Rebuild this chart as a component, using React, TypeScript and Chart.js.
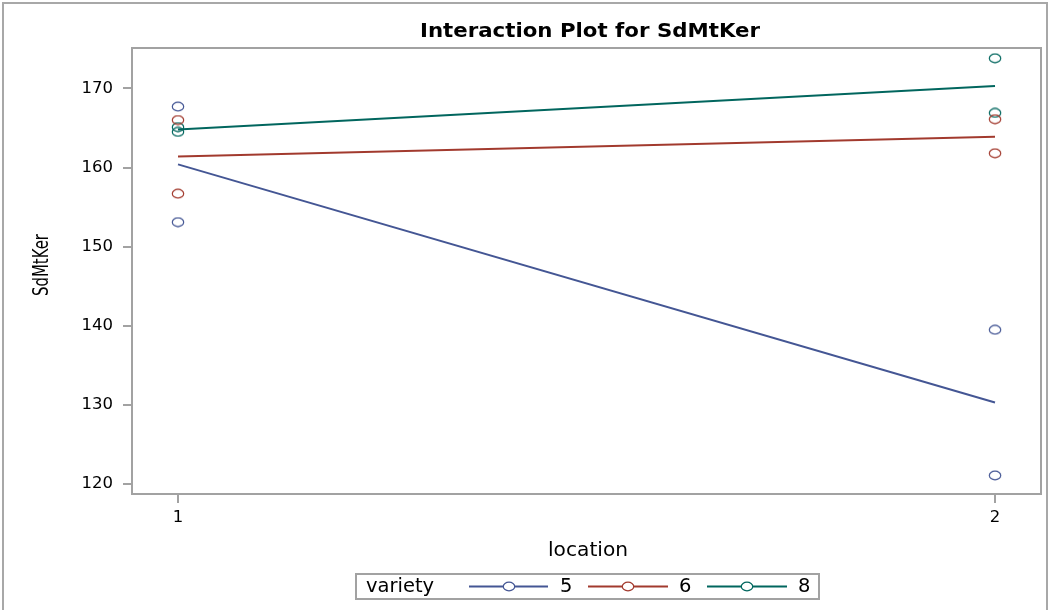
import React, { useEffect, useRef } from 'react';
import { Chart, registerables } from 'chart.js';

Chart.register(...registerables);

// ---- data ----
const locations = [1, 2];
const varieties = ['5', '6', '8'];
const colors = ['#445694', '#A23A2E', '#01665E'];

const obsV5Loc1 = [167.7, 153.1];
const obsV5Loc2 = [139.5, 121.1];
const obsV6Loc1 = [166.0, 156.7];
const obsV6Loc2 = [166.1, 161.8];
const obsV8Loc1 = [165.1, 164.5];
const obsV8Loc2 = [173.8, 166.9];

const meanV5 = [160.4, 130.3];
const meanV6 = [161.4, 163.9];
const meanV8 = [164.8, 170.3];

const yTicks = [120, 130, 140, 150, 160, 170];
const xTicks = [1, 2];

const titleText = 'Interaction Plot for SdMtKer';
const xTitle = 'location';
const yTitle = 'SdMtKer';
const legendTitle = 'variety';

const FONT = '"DejaVu Sans", Verdana, sans-serif';
const AXIS_GREY = '#a2a2a2';
const RX = 5.7;
const RY = 4.3;

function makeMarker(color: string): HTMLCanvasElement {
  const c = document.createElement('canvas');
  c.width = 14;
  c.height = 11;
  const g = c.getContext('2d')!;
  g.strokeStyle = color;
  g.lineWidth = 1.2;
  g.beginPath();
  g.ellipse(7, 5.5, RX, RY, 0, 0, Math.PI * 2);
  g.stroke();
  return c;
}

function fitText(
  ctx: CanvasRenderingContext2D,
  text: string,
  x: number,
  y: number,
  width: number,
  font: string,
  rotate = false
) {
  ctx.save();
  ctx.font = font;
  ctx.fillStyle = '#000';
  ctx.textAlign = 'center';
  ctx.textBaseline = 'alphabetic';
  const w = ctx.measureText(text).width;
  ctx.translate(x, y);
  if (rotate) ctx.rotate(-Math.PI / 2);
  ctx.scale(width / w, 1);
  ctx.fillText(text, 0, 0);
  ctx.restore();
}

const decor = {
  id: 'decor',
  beforeDatasetsDraw(chart: any) {
    const { ctx, chartArea } = chart;
    ctx.save();
    ctx.strokeStyle = AXIS_GREY;
    ctx.lineWidth = 2;
    ctx.strokeRect(chartArea.left, chartArea.top, chartArea.right - chartArea.left, chartArea.bottom - chartArea.top);
    ctx.restore();
  },
  afterDraw(chart: any) {
    const { ctx } = chart;
    // outer border
    ctx.save();
    ctx.strokeStyle = '#a8a8a8';
    ctx.lineWidth = 2;
    ctx.strokeRect(3, 3, 1044, 640);
    ctx.restore();

    fitText(ctx, titleText, 590, 37, 340, `bold 20px ${FONT}`);
    fitText(ctx, xTitle, 588, 556, 80, `20px ${FONT}`);
    fitText(ctx, yTitle, 48, 265, 62, `21px ${FONT}`, true);

    // legend
    ctx.save();
    ctx.fillStyle = '#fff';
    ctx.fillRect(356, 574, 463, 25);
    ctx.strokeStyle = AXIS_GREY;
    ctx.lineWidth = 2;
    ctx.strokeRect(356, 574, 463, 25);
    ctx.fillStyle = '#000';
    ctx.font = `19.5px ${FONT}`;
    ctx.textAlign = 'left';
    ctx.textBaseline = 'middle';
    ctx.fillText(legendTitle, 366, 587);
    const lineStart = [469, 588, 707];
    const lineEnd = [548, 668, 787];
    const markX = [509, 628, 747];
    const numX = [560, 679, 798];
    varieties.forEach((v, i) => {
      ctx.strokeStyle = colors[i];
      ctx.lineWidth = 2;
      ctx.beginPath();
      ctx.moveTo(lineStart[i], 586.5);
      ctx.lineTo(lineEnd[i], 586.5);
      ctx.stroke();
      ctx.fillStyle = '#fff';
      ctx.beginPath();
      ctx.ellipse(markX[i], 586.5, RX, RY, 0, 0, Math.PI * 2);
      ctx.fill();
      ctx.lineWidth = 1.2;
      ctx.stroke();
      ctx.fillStyle = '#000';
      ctx.fillText(v, numX[i], 587);
    });
    ctx.restore();
  },
};

export default function App() {
  const ref = useRef<HTMLCanvasElement>(null);

  useEffect(() => {
    document.body.style.margin = '0';
    const canvas = ref.current!;
    const obs = [
      [obsV5Loc1, obsV5Loc2],
      [obsV6Loc1, obsV6Loc2],
      [obsV8Loc1, obsV8Loc2],
    ];
    const means = [meanV5, meanV6, meanV8];

    const datasets: any[] = [];
    varieties.forEach((v, i) => {
      datasets.push({
        type: 'line',
        label: `mean ${v}`,
        data: locations.map((loc, j) => ({ x: loc, y: means[i][j] })),
        borderColor: colors[i],
        borderWidth: 2,
        pointRadius: 0,
        showLine: true,
        fill: false,
        order: 2,
      });
      const pts: { x: number; y: number }[] = [];
      locations.forEach((loc, j) => obs[i][j].forEach((y) => pts.push({ x: loc, y })));
      datasets.push({
        type: 'scatter',
        label: `obs ${v}`,
        data: pts,
        showLine: false,
        pointStyle: makeMarker(colors[i]),
        pointRadius: 5,
        borderColor: colors[i],
        order: 1,
      });
    });

    const chart = new Chart(canvas, {
      type: 'scatter',
      data: { datasets },
      options: {
        animation: false,
        responsive: false,
        devicePixelRatio: 1,
        layout: { padding: { top: 48, right: 8, left: 0, bottom: 0 } },
        plugins: {
          legend: { display: false },
          tooltip: { enabled: false },
          title: { display: false },
        },
        scales: {
          x: {
            type: 'linear',
            min: 0.9437,
            max: 2.0563,
            afterBuildTicks: (scale: any) => {
              scale.ticks = xTicks.map((value) => ({ value }));
            },
            afterFit: (scale: any) => {
              scale.height = 116;
            },
            ticks: {
              color: '#000',
              font: { family: FONT, size: 16.5 },
              padding: 5,
              callback: (v: any) => String(v),
            },
            grid: {
              drawOnChartArea: false,
              drawTicks: true,
              tickLength: 9,
              color: AXIS_GREY,
              lineWidth: 2,
            },
            border: { display: false },
          },
          y: {
            type: 'linear',
            min: 118.75,
            max: 175.1,
            afterBuildTicks: (scale: any) => {
              scale.ticks = yTicks.map((value) => ({ value }));
            },
            afterFit: (scale: any) => {
              scale.width = 132;
            },
            ticks: {
              color: '#000',
              font: { family: FONT, size: 16.5 },
              padding: 10,
              callback: (v: any) => String(v),
            },
            grid: {
              drawOnChartArea: false,
              drawTicks: true,
              tickLength: 9,
              color: AXIS_GREY,
              lineWidth: 2,
            },
            border: { display: false },
          },
        },
      },
      plugins: [decor],
    });
    return () => chart.destroy();
  }, []);

  return (
    <canvas
      ref={ref}
      width={1049}
      height={610}
      style={{ display: 'block', width: '1049px', height: '610px' }}
    />
  );
}
